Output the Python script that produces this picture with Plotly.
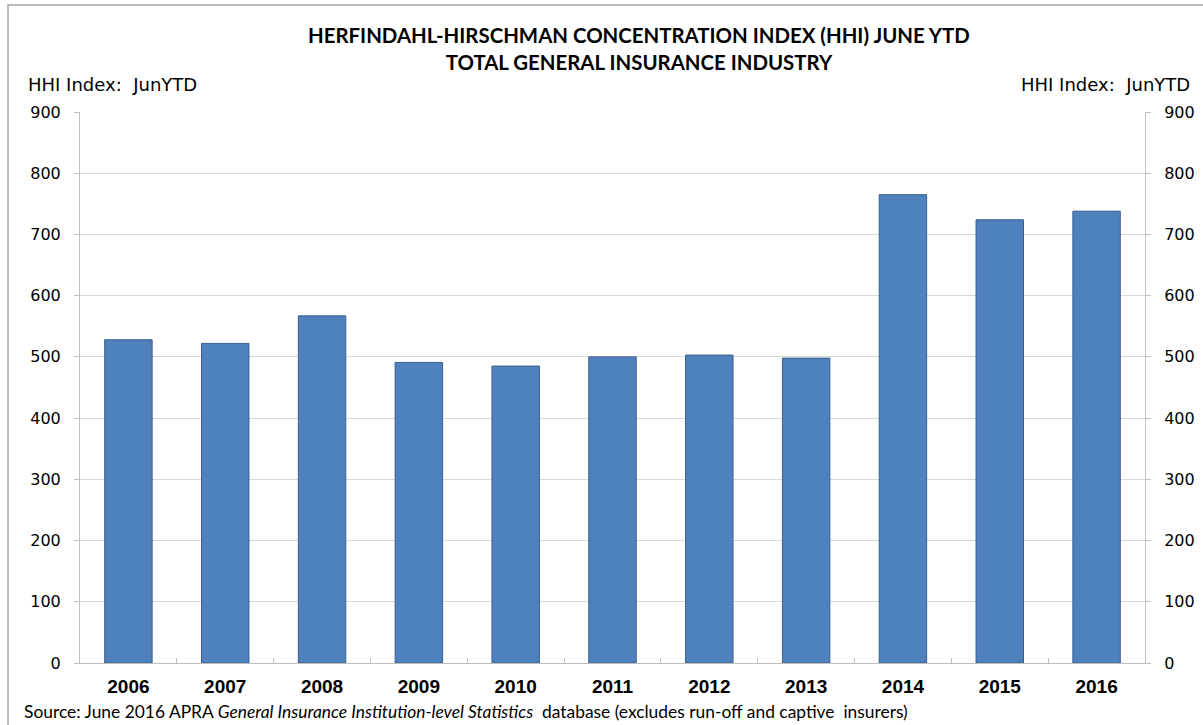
import plotly.graph_objects as go

years = ["2006", "2007", "2008", "2009", "2010", "2011", "2012", "2013", "2014", "2015", "2016"]
hhi = [528, 522, 567, 491, 485, 500, 503, 498, 765, 724, 738]
y_ticks = [0, 100, 200, 300, 400, 500, 600, 700, 800, 900]

BAR_FILL = "#4F81BD"
BAR_EDGE = "#3A5F8E"
GRID = "#D9D9D9"
AXIS = "#BFBFBF"
TICK_FONT = dict(family="DejaVu Sans, Verdana, sans-serif", size=16, color="#000000")
LABEL_FONT = dict(family="DejaVu Sans, Verdana, sans-serif", size=18, color="#000000")

fig = go.Figure()
fig.add_trace(go.Bar(
    x=years, y=hhi,
    marker=dict(color=BAR_FILL, line=dict(color=BAR_EDGE, width=1)),
    showlegend=False, hoverinfo="x+y",
))
# invisible companion trace so the right-hand axis is drawn
fig.add_trace(go.Scatter(
    x=years, y=hhi, yaxis="y2", mode="markers",
    marker=dict(opacity=0), showlegend=False, hoverinfo="skip",
))

fig.update_layout(
    width=1203, height=725,
    margin=dict(l=80, r=58, t=112, b=62),
    paper_bgcolor="white", plot_bgcolor="white",
    bargap=0.51,
    xaxis=dict(
        type="category", automargin=False,
        range=[-0.5, len(years) - 0.5],
        showline=True, linecolor=AXIS, linewidth=1,
        ticks="inside", tickson="boundaries", ticklen=5, tickcolor=AXIS,
        tickfont=dict(family="Liberation Sans, Arial, sans-serif", size=19, color="#000000", weight="bold"),
        ticklabelstandoff=6,
        showgrid=False,
    ),
    yaxis=dict(
        range=[0, 900], tickvals=y_ticks, automargin=False,
        showline=True, linecolor=AXIS, linewidth=1,
        ticks="outside", ticklen=5, tickcolor=AXIS,
        showgrid=True, gridcolor=GRID, gridwidth=1,
        zeroline=False,
        tickfont=TICK_FONT, ticklabelstandoff=10,
    ),
    yaxis2=dict(
        overlaying="y", side="right", matches="y", automargin=False,
        range=[0, 900], tickvals=y_ticks,
        showline=True, linecolor=AXIS, linewidth=1,
        ticks="outside", ticklen=5, tickcolor=AXIS,
        showgrid=False, zeroline=False,
        tickfont=TICK_FONT, ticklabelstandoff=10,
    ),
    font=dict(family="Liberation Sans, Arial, sans-serif", color="#000000"),
)

TITLE_FONT = dict(family="Lato, Open Sans, sans-serif", size=20.4, color="#000000", weight="bold")
fig.add_annotation(
    text="HERFINDAHL-HIRSCHMAN CONCENTRATION INDEX (HHI) JUNE YTD<br>TOTAL GENERAL INSURANCE INDUSTRY",
    xref="paper", yref="paper", x=0.5, y=1, xshift=26, yshift=91,
    xanchor="center", yanchor="top", showarrow=False,
    font=TITLE_FONT, align="center",
)
fig.add_annotation(
    text="HHI Index:  JunYTD", xref="paper", yref="paper",
    x=0, y=1, xshift=-54, yshift=15, xanchor="left", yanchor="bottom",
    showarrow=False, font=LABEL_FONT,
)
fig.add_annotation(
    text="HHI Index:  JunYTD", xref="paper", yref="paper",
    x=1, y=1, xshift=47, yshift=15, xanchor="right", yanchor="bottom",
    showarrow=False, font=LABEL_FONT,
)
fig.add_annotation(
    text="Source: June 2016 APRA <i>General Insurance Institution-level Statistics</i>  database (excludes run-off and captive  insurers)",
    xref="paper", yref="paper", x=0, y=0, xshift=-58, yshift=-61,
    xanchor="left", yanchor="bottom", showarrow=False,
    font=dict(family="Lato, Open Sans, sans-serif", size=17.4, color="#000000"),
)

# outer chart frame (left and top edges visible)
fig.add_shape(
    type="rect", xref="paper", yref="paper",
    x0=-0.0676, x1=1.06, y0=-0.2, y1=1.194,
    line=dict(color="#A6A6A6", width=1.5), fillcolor="rgba(0,0,0,0)", layer="below",
)

fig.write_html("out.html")
